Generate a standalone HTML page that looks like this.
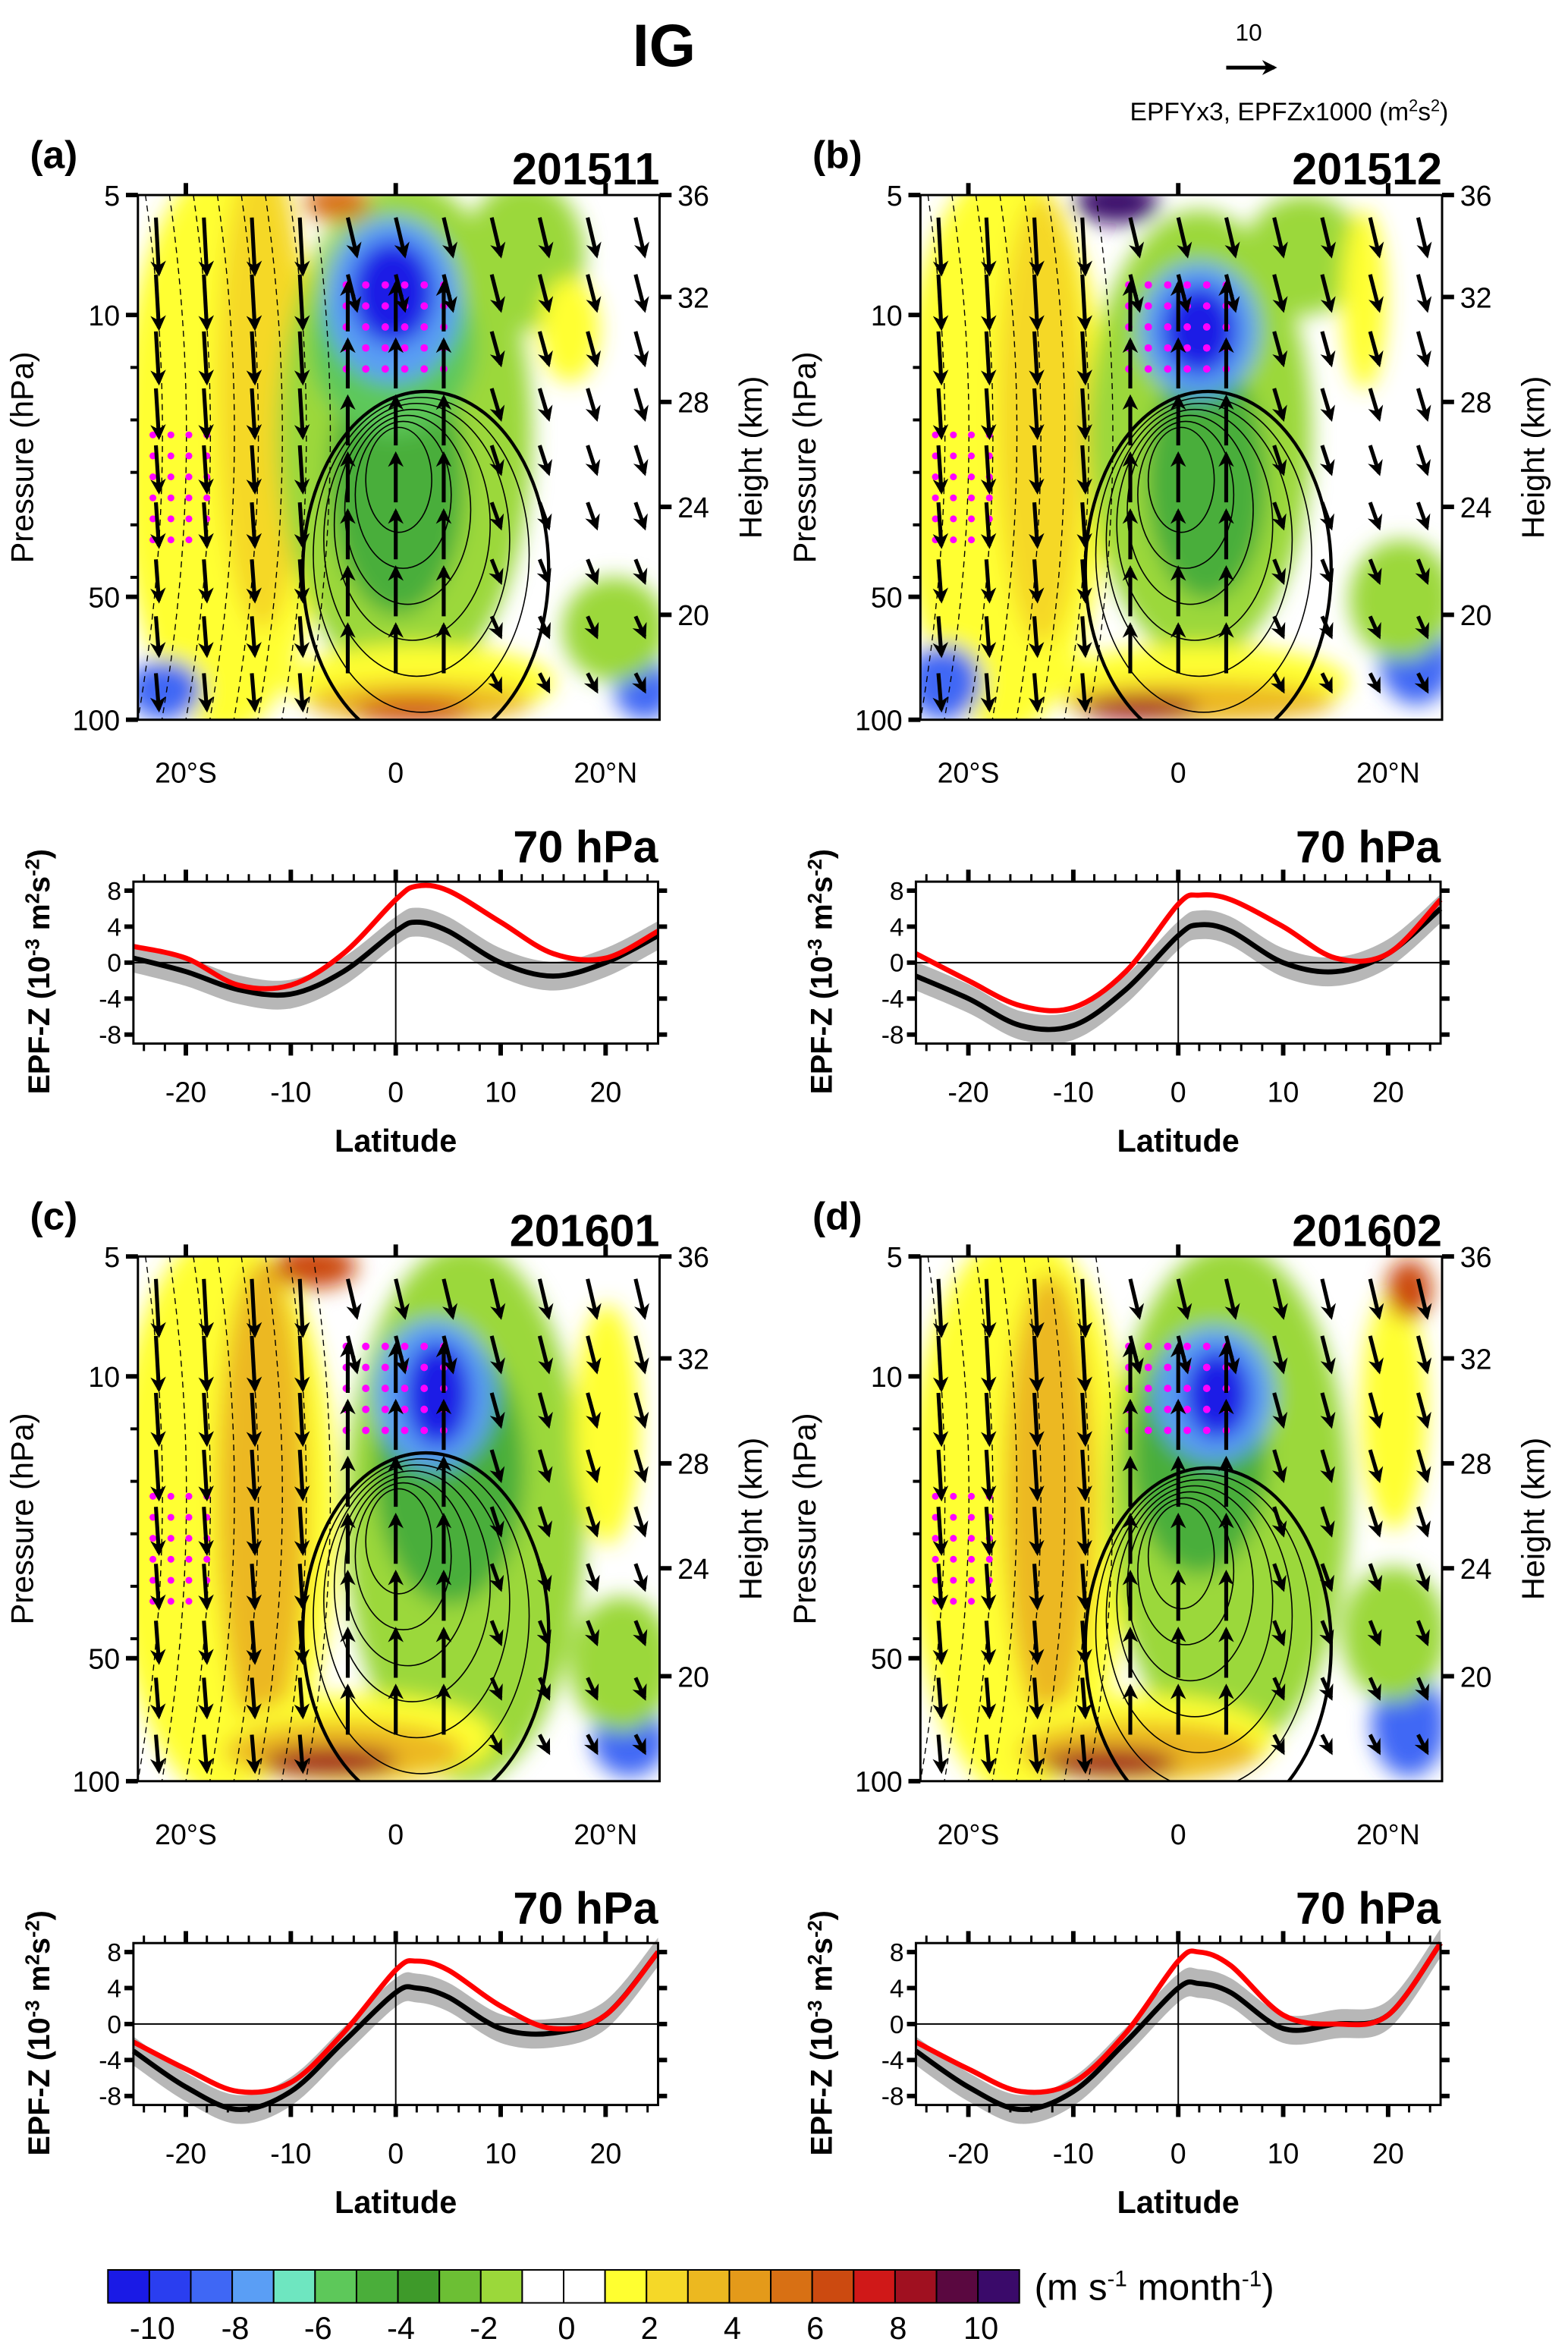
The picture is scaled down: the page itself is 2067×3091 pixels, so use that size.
<!DOCTYPE html>
<html><head><meta charset="utf-8"><style>
html,body{margin:0;padding:0;background:#fff}
svg{display:block}
text{font-family:"Liberation Sans",sans-serif}
</style></head><body>
<svg id="root" width="2067" height="3091" viewBox="0 0 1046 1564" xmlns="http://www.w3.org/2000/svg">
<defs>
<filter id="blur" x="-20%" y="-20%" width="140%" height="140%"><feGaussianBlur stdDeviation="7"/></filter>
<clipPath id="cpa"><rect x="92" y="130" width="348" height="350"/></clipPath>
<clipPath id="cpb"><rect x="614" y="130" width="348" height="350"/></clipPath>
<clipPath id="cpc"><rect x="92" y="838" width="348" height="350"/></clipPath>
<clipPath id="cpd"><rect x="614" y="838" width="348" height="350"/></clipPath>
<marker id="ah" viewBox="0 0 10 10" refX="8" refY="5" markerWidth="4" markerHeight="4" orient="auto"><path d="M0,0 L10,5 L0,10 L3,5 z" fill="#000"/></marker>
</defs>
<text x="443" y="44" font-size="40" font-weight="bold" text-anchor="middle">IG</text>
<g>
<text x="833" y="27" font-size="16" text-anchor="middle">10</text>
<line x1="818" y1="45" x2="850" y2="45" stroke="#000" stroke-width="2.5" marker-end="url(#ah)"/>
<text x="860" y="80" font-size="17" text-anchor="middle">EPFYx3, EPFZx1000 (m<tspan dy="-6" font-size="11">2</tspan><tspan dy="6">s</tspan><tspan dy="-6" font-size="11">2</tspan><tspan dy="6">)</tspan></text>
</g>
<g id="panels"></g>
<g id="cbar"></g>
</svg>
<script>
const lats=[-25,-20,-15,-10,-5,0,2,5,10,15,20,25];
const redA=[1.8,0.5,-2.5,-2.5,1,7,8.5,8,4.5,1,0.5,3.5];
const blkA=[0.5,-1,-3,-3.5,-1,3.5,4.5,3.5,0,-1.5,0,3];
const redB=[1,-2,-4.8,-5,-1,6.5,7.5,7,4,0.5,1,7];
const blkB=[-1.5,-4,-7,-7,-3,3,4.2,3.5,0,-1,1,6];
const redC=[-2,-5,-7.5,-6.5,-1,6,7,6,2,-0.5,1,8];
const blkC=[-3,-7,-9.5,-7.5,-2,3.5,4,3,-0.5,-1,1,8];
const redD=[-2,-5,-7.5,-6.5,-1,7,8,6.5,1,0,1,9];
const blkD=[-3,-7,-9.5,-7.5,-2,4,4.5,3.5,-0.5,0,1,9];
const yTicks=[8,4,0,-4,-8];
const xTicks=[-20,-10,0,10,20];
const cbLabels=[-10,-8,-6,-4,-2,0,2,4,6,8,10];
const cbColors=["#1a1ae6","#2a3ef0","#3f67f5","#5a9ef5","#6ee6c0","#5dc85a","#4aae3a","#3e9a2a","#6cbf34","#9bd83a","#fff","#fff","#ffff30","#f5d828","#ecb820","#e49a1a","#d87014","#cc4a10","#d01818","#a01020","#5a0840","#3a0a6a"];
const NS="http://www.w3.org/2000/svg";
function el(tag,attrs,parent){const e=document.createElementNS(NS,tag);for(const k in attrs)e.setAttribute(k,attrs[k]);if(parent)parent.appendChild(e);return e;}
function txt(parent,x,y,s,size,anchor,bold){const t=el('text',{x:x,y:y,'font-size':size,'text-anchor':anchor||'middle'},parent);if(bold)t.setAttribute('font-weight','bold');t.textContent=s;return t;}
function smooth(pts){let d=`M${pts[0][0]},${pts[0][1]}`;for(let i=0;i<pts.length-1;i++){const p0=pts[Math.max(i-1,0)],p1=pts[i],p2=pts[i+1],p3=pts[Math.min(i+2,pts.length-1)];const c1=[p1[0]+(p2[0]-p0[0])/6,p1[1]+(p2[1]-p0[1])/6],c2=[p2[0]-(p3[0]-p1[0])/6,p2[1]-(p3[1]-p1[1])/6];d+=` C${c1[0]},${c1[1]} ${c2[0]},${c2[1]} ${p2[0]},${p2[1]}`;}return d;}
const panels=document.getElementById('panels');
const blobs={
a:[["#ffff30",150,300,70,190],["#f5d828",175,260,30,160],["#9bd83a",270,290,85,170],["#9bd83a",350,170,40,50],["#4aae3a",265,320,45,90],["#5dc85a",262,230,55,60],["#5a9ef5",262,200,45,55],["#1a1ae6",262,195,28,35],["#ffff30",380,220,20,35],["#ffff30",280,455,90,25],["#ecb820",280,468,75,14],["#cc4a10",275,474,40,8],["#3f67f5",110,460,25,20],["#3f67f5",430,460,20,20],["#9bd83a",410,420,35,35],["#d87014",225,135,22,12]],
b:[["#ffff30",670,300,70,190],["#f5d828",695,280,30,150],["#9bd83a",800,290,75,150],["#9bd83a",870,170,40,40],["#4aae3a",805,320,40,80],["#5a9ef5",800,220,40,45],["#1a1ae6",800,220,25,30],["#ffff30",910,200,15,60],["#ffff30",800,455,100,25],["#ecb820",800,468,90,14],["#a01020",760,472,40,8],["#3f67f5",630,455,25,25],["#3f67f5",945,440,25,30],["#9bd83a",935,400,35,40],["#3a0a6a",745,135,28,14]],
c:[["#ffff30",150,1010,75,190],["#ecb820",175,1000,30,160],["#9bd83a",310,1010,80,180],["#4aae3a",300,980,50,90],["#5a9ef5",290,930,40,50],["#1a1ae6",292,930,22,35],["#ffff30",405,950,22,80],["#ffff30",240,1160,90,30],["#ecb820",230,1168,80,20],["#a01020",220,1175,45,10],["#3f67f5",420,1160,25,25],["#9bd83a",415,1110,35,45],["#cc4a10",210,845,28,14]],
d:[["#ffff30",680,1010,75,190],["#ecb820",700,1000,30,150],["#9bd83a",820,1000,80,170],["#4aae3a",800,970,45,80],["#5a9ef5",810,930,40,45],["#1a1ae6",812,930,22,30],["#ffff30",930,940,22,80],["#9bd83a",820,1120,40,25],["#ffff30",760,1160,90,30],["#ecb820",760,1168,80,20],["#a01020",740,1176,45,10],["#3f67f5",940,1150,25,35],["#9bd83a",930,1090,35,45],["#cc4a10",940,860,15,20]]
};
function contourPanel(key,x0,y0,label,date){
 const g=el('g',{},panels);
 
 
 const w=348,h=350;
 const fill=el('g',{'clip-path':'url(#cp'+key+')'},g);
 const bg=el('g',{filter:'url(#blur)'},fill);
 blobs[key].forEach(b=>{const e=el('ellipse',{cx:b[1],cy:b[2],rx:b[3],ry:b[4],fill:b[0]},bg);
  
  });
 for(let i=0;i<8;i++){el('path',{d:`M${x0+5+i*16},${y0} q25,${h/2} ${-5},${h}`,stroke:'#000','stroke-width':0.7,fill:'none','stroke-dasharray':'4,3'},fill);}
 const cx=x0+174,cy=y0+(key==='d'?200:190);
 for(let i=0;i<7;i++){el('ellipse',{cx:cx+i*3,cy:cy+i*10,rx:22+i*10,ry:35+i*14,stroke:'#000','stroke-width':i==6?2.2:0.8,fill:'none'},fill);}
 const dotg=el('g',{},fill);
 for(let i=0;i<6;i++)for(let j=0;j<5;j++){el('circle',{cx:cx-35+i*13,cy:y0+60+j*14,r:2.5,fill:'#f0f'},dotg);}
 for(let i=0;i<4;i++)for(let j=0;j<6;j++){el('circle',{cx:x0+10+i*12,cy:y0+160+j*14,r:2.3,fill:'#f0f'},dotg);}
 const ag=el('g',{},fill);
 for(let i=0;i<11;i++)for(let j=0;j<9;j++){
  const ax=x0+12+i*32,ay=y0+15+j*38;
  let dx,dy;
  const rx=(ax-cx)/w;
  if(ay>y0+320){dx=26;dy=0;}
  else if(Math.abs(rx)<0.12&&ay>y0+80){dx=0;dy=-32;}
  else if(rx<-0.12){dx=2;dy=38*(1-(ay-y0)/h*0.4);}
  else {dx=6;dy=26*(1-(ay-y0)/h*0.6);}
  el('line',{x1:ax,y1:ay,x2:ax+dx,y2:ay+dy,stroke:'#000','stroke-width':2.6,'marker-end':'url(#ah)'},ag);
 }
 el('rect',{x:x0,y:y0,width:w,height:h,fill:'none',stroke:'#000','stroke-width':1.5},g);
 const pT=[[5,0],[10,80],[50,268],[100,350]];
 pT.forEach(p=>{el('line',{x1:x0-8,y1:y0+p[1],x2:x0,y2:y0+p[1],stroke:'#000','stroke-width':3},g);txt(g,x0-12,y0+p[1]+7,p[0],19,'end');});
 [1,2,3,4,5].forEach(k=>el('line',{x1:x0-5,y1:y0+80+k*35,x2:x0,y2:y0+80+k*35,stroke:'#000','stroke-width':2},g));
 const hT=[[36,0],[32,68],[28,138],[24,208],[20,280]];
 hT.forEach(p=>{el('line',{x1:x0+w,y1:y0+p[1],x2:x0+w+8,y2:y0+p[1],stroke:'#000','stroke-width':3},g);txt(g,x0+w+12,y0+p[1]+7,p[0],19,'start');});
 [[-20,'20°S'],[0,'0'],[20,'20°N']].forEach(p=>{const xx=x0+172+p[0]*7;el('line',{x1:xx,y1:y0,x2:xx,y2:y0-8,stroke:'#000','stroke-width':3},g);txt(g,xx,y0+h+42,p[1],19);});
 const yl=el('text',{x:0,y:0,'font-size':21,'text-anchor':'middle',transform:`translate(${x0-70},${y0+175}) rotate(-90)`},g);yl.textContent='Pressure (hPa)';
 const yr=el('text',{x:0,y:0,'font-size':21,'text-anchor':'middle',transform:`translate(${x0+w+68},${y0+175}) rotate(-90)`},g);yr.textContent='Height (km)';
 txt(g,x0-72,y0-18,label,26,'start',true);
 txt(g,x0+w,y0-7,date,30,'end',true);
}
function linePanel(key,x0,y0,red,blk){
 const g=el('g',{},panels);
 
 
 const w=350,h=108;
 const xs=v=>x0+(v+25)*7, ys=v=>y0+54-v*6;
 const upP=lats.map((l,i)=>[xs(l),ys(blk[i]+1.6)]),dnP=lats.map((l,i)=>[xs(l),ys(blk[i]-1.6)]).reverse();
 const band=el('path',{d:smooth(upP)+' L'+smooth(dnP).slice(1)+' Z',fill:'#aaa',opacity:0.85},g);
 
 
 el('line',{x1:x0,y1:ys(0),x2:x0+w,y2:ys(0),stroke:'#000','stroke-width':1},g);
 el('line',{x1:xs(0),y1:y0,x2:xs(0),y2:y0+h,stroke:'#000','stroke-width':1},g);
 const pl=arr=>smooth(lats.map((l,i)=>[xs(l),ys(arr[i])]));
 const bl=el('path',{d:pl(blk),fill:'none',stroke:'#000','stroke-width':3.4},g);
 
 
 const rl=el('path',{d:pl(red),fill:'none',stroke:'#f00','stroke-width':3.4},g);
 
 
 el('rect',{x:x0,y:y0,width:w,height:h,fill:'none',stroke:'#000','stroke-width':1.5},g);
 yTicks.forEach(v=>{el('line',{x1:x0-6,y1:ys(v),x2:x0,y2:ys(v),stroke:'#000','stroke-width':3},g);el('line',{x1:x0+w,y1:ys(v),x2:x0+w+6,y2:ys(v),stroke:'#000','stroke-width':3},g);txt(g,x0-8,ys(v)+6,v,17,'end');});
 for(let l=-24;l<=24;l+=2){el('line',{x1:xs(l),y1:y0+h,x2:xs(l),y2:y0+h+(l%10==0?8:5),stroke:'#000','stroke-width':l%10==0?3:1.5},g);el('line',{x1:xs(l),y1:y0,x2:xs(l),y2:y0-(l%10==0?8:5),stroke:'#000','stroke-width':l%10==0?3:1.5},g);}
 xTicks.forEach(v=>txt(g,xs(v),y0+h+39,v,19));
 txt(g,x0+175,y0+h+72,'Latitude',21,'middle',true);
 txt(g,x0+w,y0-13,'70 hPa',30,'end',true);
 const yl=el('text',{x:0,y:0,'font-size':20,'font-weight':'bold','text-anchor':'middle',transform:`translate(${x0-56},${y0+60}) rotate(-90)`},g);
 yl.innerHTML='EPF-Z (10<tspan dy="-7" font-size="13">-3</tspan><tspan dy="7"> m</tspan><tspan dy="-7" font-size="13">2</tspan><tspan dy="7">s</tspan><tspan dy="-7" font-size="13">-2</tspan><tspan dy="7">)</tspan>';
}
contourPanel('a',92,130,'(a)','201511');
contourPanel('b',614,130,'(b)','201512');
contourPanel('c',92,838,'(c)','201601');
contourPanel('d',614,838,'(d)','201602');
linePanel('a',89,588,redA,blkA);
linePanel('b',611,588,redB,blkB);
linePanel('c',89,1296,redC,blkC);
linePanel('d',611,1296,redD,blkD);
const cb=document.getElementById('cbar');
const bw=608/cbColors.length;
cbColors.forEach((c,i)=>{const r=el('rect',{x:72+i*bw,y:1514,width:bw,height:22,fill:c,stroke:'#000','stroke-width':1},cb);
 
 });
cbLabels.forEach((v,i)=>txt(cb,72+bw*(1+2*i)+2,1560,v,21));
const u=el('text',{x:690,y:1534,'font-size':25,'text-anchor':'start'},cb);
u.innerHTML='(m s<tspan dy="-9" font-size="15">-1</tspan><tspan dy="9"> month</tspan><tspan dy="-9" font-size="15">-1</tspan><tspan dy="9">)</tspan>';
</script>
</body></html>
